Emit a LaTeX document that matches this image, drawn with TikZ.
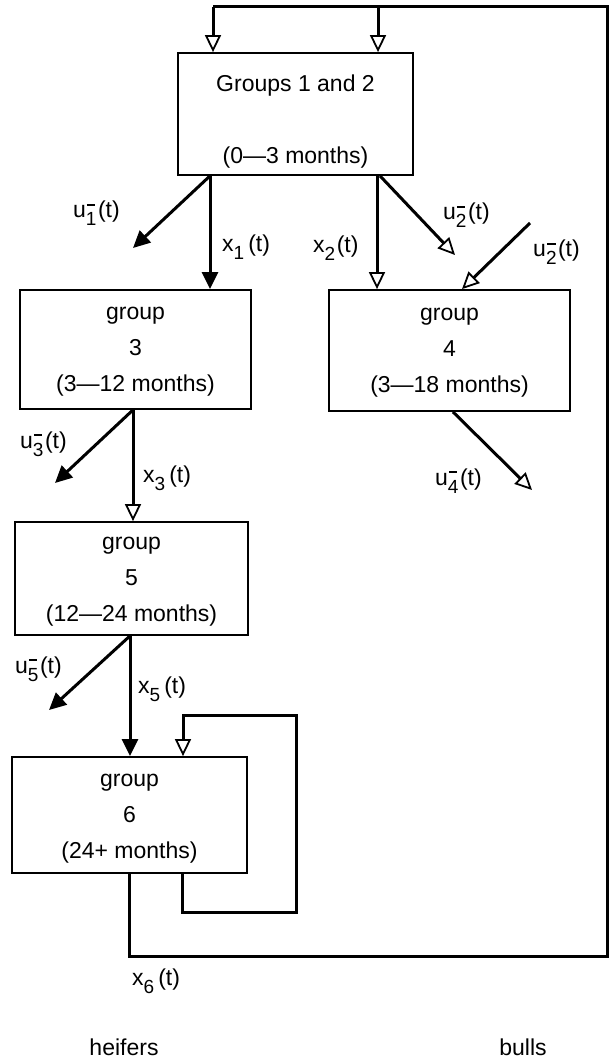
\documentclass[tikz,border=0pt]{standalone}
\usepackage{fontspec}
\setmainfont{Liberation Sans}
\usetikzlibrary{arrows.meta}
\newcommand\ulab[1]{u\makebox[0pt][l]{\kern1pt\raisebox{12pt}{\rule{8.5pt}{1.8pt}}}\raisebox{-8pt}{\fontsize{19}{19}\selectfont #1}\kern1.5pt(t)}
\newcommand\xlab[1]{x\raisebox{-8pt}{\fontsize{19}{19}\selectfont #1}\kern4pt(t)}
\tikzset{
  box/.style={draw, line width=1.8pt, rectangle, inner sep=0pt, align=center,
    font=\fontsize{23}{36}\selectfont},
  flow/.style={line width=3pt},
  arrF/.style={flow, -{Triangle[length=17pt,width=16pt]}},
  arrO/.style={flow, -{Triangle[open,length=17pt,width=16pt,line width=1.8pt,fill=white]}},
  lab/.style={anchor=base west, inner sep=0pt, font=\fontsize{23}{28}\selectfont},
  sidetext/.style={anchor=base, inner sep=0pt, font=\fontsize{23}{28}\selectfont}
}
\begin{document}
\begin{tikzpicture}[x=1pt,y=-1pt]
\useasboundingbox (0,0) rectangle (609,1064);
% boxes
\node[box, minimum width=235pt, minimum height=122pt] (g12) at (295.5,114)
  {\rule{0pt}{31pt}Groups 1 and 2\\[36pt](0\textemdash3 months)};
\node[box, minimum width=231pt, minimum height=119pt] (g3) at (135.5,349.5)
  {\rule{0pt}{17pt}group\\3\\(3\textemdash12 months)};
\node[box, minimum width=241pt, minimum height=121pt] (g4) at (449.5,350.5)
  {\rule{0pt}{17pt}group\\4\\(3\textemdash18 months)};
\node[box, minimum width=233pt, minimum height=113pt] (g5) at (131.5,578.5)
  {\rule{0pt}{19pt}group\\5\\(12\textemdash24 months)};
\node[box, minimum width=235pt, minimum height=116pt] (g6) at (129.5,815)
  {\rule{0pt}{20pt}group\\6\\(24+ months)};
% reference coordinates
\coordinate (ta) at (213,7);
\coordinate (tm) at (378,7);
\coordinate (tr) at (607,7);
\coordinate (br) at (607,956);
\coordinate (cx1) at (210,0);
\coordinate (cx2) at (377,0);
\coordinate (cu2) at (380,0);
\coordinate (cx3) at (133,0);
\coordinate (cu4) at (453,0);
\coordinate (cx5) at (130,0);
\coordinate (cx6) at (129,0);
\coordinate (cl) at (182,0);
\coordinate (cl2) at (183,0);
\coordinate (cin) at (462,0);
\coordinate (u1e) at (133,248);
\coordinate (u2e) at (455,255);
\coordinate (u2s) at (530,223);
\coordinate (u3e) at (55,483);
\coordinate (u4e) at (532,490);
\coordinate (u5e) at (49,710);
\coordinate (lb) at (296,912);
\coordinate (lt) at (296,715);
% feedback from group 6 to top
\draw[flow] (g6.south -| cx6) |- (br) -- (tr) -- (ta);
\draw[arrO] (ta) -- (ta |- g12.north);
\draw[arrO] (tm) -- (tm |- g12.north);
% self loop on group 6
\draw[arrO] (g6.south -| cl) |- (lb) -- (lt) -| (g6.north -| cl2);
% flows
\draw[arrF] (g12.south -| cx1) -- (g3.north -| cx1);
\draw[arrF] (g12.south -| cx1) -- (u1e);
\draw[arrO] (g12.south -| cx2) -- (g4.north -| cx2);
\draw[arrO] (g12.south -| cu2) -- (u2e);
\draw[arrO] (u2s) -- (g4.north -| cin);
\draw[arrO] (g3.south -| cx3) -- (g5.north -| cx3);
\draw[arrF] (g3.south -| cx3) -- (u3e);
\draw[arrO] (g4.south -| cu4) -- (u4e);
\draw[arrF] (g5.south -| cx5) -- (g6.north -| cx5);
\draw[arrF] (g5.south -| cx5) -- (u5e);
% labels
\node[lab] (lu1) at (73,218) {\ulab{1}};
\node[lab] (lx1) at (222,252) {\xlab{1}};
\node[lab] (lx2) at (313,253) {x\raisebox{-8pt}{\fontsize{19}{19}\selectfont 2}\kern1.5pt(t)};
\node[lab] (lu2a) at (443,220) {\ulab{2}};
\node[lab] (lu2b) at (533,257) {\ulab{2}};
\node[lab] (lu3) at (20,448) {\ulab{3}};
\node[lab] (lx3) at (143,482) {\xlab{3}};
\node[lab] (lu4) at (435,485) {\ulab{4}};
\node[lab] (lu5) at (15,673) {\ulab{5}};
\node[lab] (lx5) at (138,693) {\xlab{5}};
\node[lab] (lx6) at (132,985) {\xlab{6}};
\node[sidetext] (hf) at (124,1055) {heifers};
\node[sidetext] (bl) at (523,1055) {bulls};
\end{tikzpicture}
\end{document}
